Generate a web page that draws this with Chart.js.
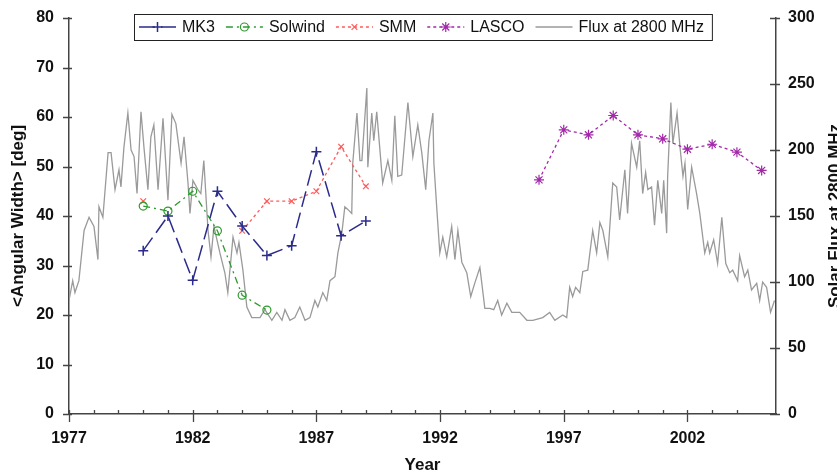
<!DOCTYPE html>
<html>
<head>
<meta charset="utf-8">
<title>Angular width and solar flux</title>
<script src="https://cdn.jsdelivr.net/npm/chart.js@4/dist/chart.umd.min.js"></script>
<style>
  body { margin: 0; background: #fff; }
  canvas { display: block; }
</style>
</head>
<body>
<canvas id="chart" width="837" height="476"></canvas>
<script>
// coronagraph years and mean angular width (deg)
var mk3Years = [1980, 1981, 1982, 1983, 1984, 1985, 1986, 1987, 1988, 1989];
var mk3Width = [33, 40, 27, 45, 38, 32, 34, 53, 36, 39];

var solwindYears = [1980, 1981, 1982, 1983, 1984, 1985];
var solwindWidth = [42, 41, 45, 37, 24, 21];

var smmYears = [1980, 1981, 1982, 1983, 1984, 1985, 1986, 1987, 1988, 1989];
var smmWidth = [43, null, null, null, 37, 43, 43, 45, 54, 46];

var lascoYears = [1996, 1997, 1998, 1999, 2000, 2001, 2002, 2003, 2004, 2005];
var lascoWidth = [47.3, 57.4, 56.4, 60.3, 56.4, 55.6, 53.5, 54.5, 52.9, 49.2];

// 10.7 cm solar flux
var fluxYears = [
  1977.00, 1977.15, 1977.24, 1977.40, 1977.61, 1977.81, 1978.01, 1978.17, 1978.21, 1978.37,
  1978.58, 1978.70, 1978.86, 1979.02, 1979.10, 1979.22, 1979.38, 1979.51, 1979.63, 1979.75,
  1979.91, 1980.03, 1980.19, 1980.31, 1980.43, 1980.60, 1980.80, 1981.00, 1981.16, 1981.32,
  1981.53, 1981.65, 1981.81, 1981.89, 1982.01, 1982.21, 1982.33, 1982.45, 1982.62, 1982.74,
  1982.86, 1983.10, 1983.30, 1983.42, 1983.63, 1983.79, 1983.87, 1984.03, 1984.19, 1984.39,
  1984.72, 1984.92, 1985.20, 1985.40, 1985.61, 1985.73, 1985.93, 1986.13, 1986.33, 1986.54,
  1986.74, 1986.94, 1987.06, 1987.26, 1987.42, 1987.55, 1987.75, 1987.87, 1988.03, 1988.15,
  1988.27, 1988.43, 1988.47, 1988.64, 1988.76, 1988.84, 1989.04, 1989.08, 1989.24, 1989.32,
  1989.44, 1989.56, 1989.68, 1989.89, 1990.05, 1990.17, 1990.29, 1990.45, 1990.70, 1990.90,
  1991.10, 1991.26, 1991.42, 1991.55, 1991.71, 1991.75, 1991.87, 1991.99, 1992.11, 1992.27,
  1992.47, 1992.60, 1992.72, 1992.88, 1993.08, 1993.24, 1993.40, 1993.61, 1993.81, 1994.01,
  1994.17, 1994.33, 1994.49, 1994.70, 1994.90, 1995.22, 1995.51, 1995.75, 1996.15, 1996.43,
  1996.64, 1996.96, 1997.12, 1997.24, 1997.36, 1997.48, 1997.65, 1997.77, 1997.97, 1998.17,
  1998.33, 1998.46, 1998.58, 1998.78, 1998.98, 1999.14, 1999.26, 1999.47, 1999.58, 1999.74,
  1999.95, 2000.07, 2000.19, 2000.31, 2000.40, 2000.55, 2000.67, 2000.80, 2000.96, 2001.04,
  2001.16, 2001.20, 2001.33, 2001.41, 2001.58, 2001.70, 2001.82, 2001.90, 2002.01, 2002.17,
  2002.37, 2002.50, 2002.70, 2002.82, 2002.90, 2003.06, 2003.22, 2003.39, 2003.55, 2003.71,
  2003.83, 2004.03, 2004.11, 2004.31, 2004.44, 2004.59, 2004.80, 2004.92, 2005.04, 2005.20,
  2005.36, 2005.52
];
var fluxValues = [
  86, 101, 92, 101, 139, 149, 142, 117, 157, 149,
  198, 198, 170, 185, 172, 202, 228, 200, 195, 167,
  229, 202, 170, 210, 219, 170, 224, 162, 227, 220,
  190, 210, 175, 152, 177, 170, 167, 192, 139, 119,
  142, 122, 107, 92, 134, 122, 130, 109, 81, 73,
  73, 79, 71, 77, 71, 79, 71, 73, 81, 71,
  73, 86, 81, 92, 86, 101, 104, 122, 137, 157,
  155, 152, 190, 228, 192, 192, 247, 187, 228, 207,
  229, 202, 175, 192, 177, 226, 180, 181, 236, 195,
  219, 198, 170, 207, 228, 190, 155, 122, 134, 119,
  142, 117, 139, 115, 107, 89, 99, 111, 80, 80,
  79, 86, 75, 84, 77, 77, 71, 71, 73, 77,
  71, 75, 73, 96, 89, 96, 92, 108, 109, 139,
  122, 145, 139, 119, 175, 172, 147, 185, 152, 205,
  187, 207, 167, 183, 170, 172, 143, 177, 152, 177,
  137, 180, 236, 205, 228, 202, 180, 190, 155, 187,
  167, 152, 122, 130, 122, 132, 114, 149, 114, 107,
  109, 101, 120, 104, 109, 94, 99, 86, 100, 96,
  77, 86
];

var yearMin = 1977, yearMax = 2005.58;
var leftTicks = { min: 0, max: 80, step: 10 };
var rightTicks = { min: 0, max: 300, step: 50 };

function pairs(xs, ys) {
  return xs.map(function (x, i) { return { x: x, y: ys[i] }; });
}

Chart.defaults.font.family = "'Liberation Sans', Arial, sans-serif";
Chart.defaults.color = '#111';

var legendPlugin = {
  id: 'boxLegend',
  afterDraw: function (chart) {
    var ctx = chart.ctx;
    var order = [0, 1, 2, 3, 4];
    var sample = 37, gap = 6, spacing = 11;
    var left = 134, top = 14, h = 26, cy = top + h / 2;
    ctx.save();
    ctx.font = "16px 'Liberation Sans', Arial, sans-serif";
    var x = left + 5;
    var items = order.map(function (i) {
      var ds = chart.data.datasets[i];
      var it = { ds: ds, x0: x, tx: x + sample + gap };
      x = it.tx + ctx.measureText(ds.label).width + spacing;
      return it;
    });
    var right = x - spacing + 8;
    ctx.fillStyle = '#fff';
    ctx.fillRect(left, top, right - left, h);
    ctx.strokeStyle = '#222';
    ctx.lineWidth = 1;
    ctx.strokeRect(left + 0.5, top + 0.5, right - left, h);
    items.forEach(function (it) {
      var ds = it.ds;
      ctx.strokeStyle = ds.borderColor;
      ctx.lineWidth = ds.borderWidth;
      ctx.setLineDash(ds.borderDash || []);
      ctx.beginPath();
      ctx.moveTo(it.x0, cy);
      ctx.lineTo(it.x0 + sample, cy);
      ctx.stroke();
      ctx.setLineDash([]);
      if (ds.pointRadius > 0 && Chart.helpers && Chart.helpers.drawPoint) {
        ctx.fillStyle = ds.pointBackgroundColor || ds.borderColor;
        ctx.lineWidth = ds.pointBorderWidth || 1;
        Chart.helpers.drawPoint(ctx, {
          pointStyle: ds.pointStyle, radius: ds.pointRadius,
          rotation: 0, borderWidth: ds.pointBorderWidth || 1
        }, it.x0 + sample / 2, cy);
      }
      ctx.fillStyle = '#111';
      ctx.textBaseline = 'middle';
      ctx.textAlign = 'left';
      ctx.fillText(ds.label, it.tx, cy + 1);
    });
    ctx.restore();
  }
};

var axisPlugin = {
  id: 'tickMarks',
  afterDraw: function (chart) {
    var ctx = chart.ctx, a = chart.chartArea;
    var sx = chart.scales.x, sy = chart.scales.y, sr = chart.scales.y1;
    ctx.save();
    ctx.strokeStyle = '#444';
    ctx.lineWidth = 1.3;
    ctx.beginPath();
    sx.ticks.forEach(function (t) {
      if (Math.abs(t.value - Math.round(t.value)) > 1e-6) return;
      var px = Math.round(sx.getPixelForValue(t.value)) + 0.5;
      var major = Math.round(t.value - yearMin) % 5 === 0;
      ctx.moveTo(px, a.bottom - 4);
      ctx.lineTo(px, major ? a.bottom + 8 : a.bottom);
    });
    sy.ticks.forEach(function (t) {
      var py = Math.round(sy.getPixelForValue(t.value)) + 0.5;
      ctx.moveTo(a.left - 6, py);
      ctx.lineTo(a.left + 3, py);
    });
    sr.ticks.forEach(function (t) {
      var py = Math.round(sr.getPixelForValue(t.value)) + 0.5;
      ctx.moveTo(a.right - 6, py);
      ctx.lineTo(a.right + 4, py);
    });
    ctx.stroke();

    // right axis title reads bottom to top and runs off the edge
    ctx.fillStyle = '#111';
    ctx.font = "bold 17px 'Liberation Sans', Arial, sans-serif";
    ctx.textAlign = 'center';
    ctx.textBaseline = 'middle';
    ctx.translate(835, (a.top + a.bottom) / 2);
    ctx.rotate(-Math.PI / 2);
    ctx.fillText('Solar Flux at 2800 MHz', 0, 0);
    ctx.restore();
  }
};

var tickFont = { size: 16, weight: 'bold' };
var titleFont = { size: 17, weight: 'bold' };
var axisBorder = { display: true, color: '#444', width: 1.5 };

new Chart(document.getElementById('chart'), {
  type: 'line',
  data: {
    datasets: [
      {
        label: 'MK3', data: pairs(mk3Years, mk3Width), yAxisID: 'y',
        borderColor: '#2b2b8c', borderWidth: 1.5, borderDash: [16, 6],
        pointStyle: 'cross', pointRadius: 5, pointBorderWidth: 1.5,
        pointBorderColor: '#2b2b8c', pointBackgroundColor: '#2b2b8c'
      },
      {
        label: 'Solwind', data: pairs(solwindYears, solwindWidth), yAxisID: 'y',
        borderColor: '#2f9a2f', borderWidth: 1.3, borderDash: [7, 4, 2, 4],
        pointStyle: 'circle', pointRadius: 4, pointBorderWidth: 1.2,
        pointBorderColor: '#2f9a2f', pointBackgroundColor: 'rgba(0,0,0,0)'
      },
      {
        label: 'SMM', data: pairs(smmYears, smmWidth), yAxisID: 'y', spanGaps: false,
        borderColor: '#ff5a5a', borderWidth: 1.3, borderDash: [3, 3],
        pointStyle: 'crossRot', pointRadius: 4, pointBorderWidth: 1.2,
        pointBorderColor: '#ff5a5a', pointBackgroundColor: '#ff5a5a'
      },
      {
        label: 'LASCO', data: pairs(lascoYears, lascoWidth), yAxisID: 'y',
        borderColor: '#a22aa8', borderWidth: 1.3, borderDash: [3, 3],
        pointStyle: 'star', pointRadius: 5, pointBorderWidth: 1.2,
        pointBorderColor: '#a22aa8', pointBackgroundColor: '#a22aa8'
      },
      {
        label: 'Flux at 2800 MHz', data: pairs(fluxYears, fluxValues), yAxisID: 'y1',
        borderColor: '#9a9a9a', borderWidth: 1.3, pointRadius: 0
      }
    ]
  },
  options: {
    responsive: false,
    animation: false,
    devicePixelRatio: 1,
    layout: { padding: { top: 18, left: 0, right: 0, bottom: 0 } },
    plugins: { legend: { display: false }, tooltip: { enabled: false } },
    elements: { line: { tension: 0 } },
    scales: {
      x: {
        type: 'linear', min: yearMin, max: yearMax,
        grid: { display: false, drawTicks: false }, border: axisBorder,
        ticks: {
          stepSize: 1, autoSkip: false, maxRotation: 0, padding: 15, font: tickFont,
          callback: function (v) {
            return Math.abs((v - yearMin) % 5) < 1e-6 ? String(Math.round(v)) : '';
          }
        },
        title: { display: true, text: 'Year', font: titleFont, padding: 0 },
        afterFit: function (s) { s.height = 62; s.paddingLeft = 0; s.paddingRight = 0; }
      },
      y: {
        position: 'left', min: leftTicks.min, max: leftTicks.max,
        grid: { display: false, drawTicks: false }, border: axisBorder,
        ticks: { stepSize: leftTicks.step, padding: 15, font: tickFont },
        title: { display: true, text: '<Angular Width> [deg]', font: titleFont, padding: { top: 8, bottom: 0 } },
        afterFit: function (s) { s.width = 69; s.paddingTop = 0; s.paddingBottom = 0; }
      },
      y1: {
        position: 'right', min: rightTicks.min, max: rightTicks.max,
        grid: { display: false, drawTicks: false }, border: axisBorder,
        ticks: { stepSize: rightTicks.step, padding: 12, font: tickFont },
        afterFit: function (s) { s.width = 61; s.paddingTop = 0; s.paddingBottom = 0; }
      }
    }
  },
  plugins: [axisPlugin, legendPlugin]
});
</script>
</body>
</html>
